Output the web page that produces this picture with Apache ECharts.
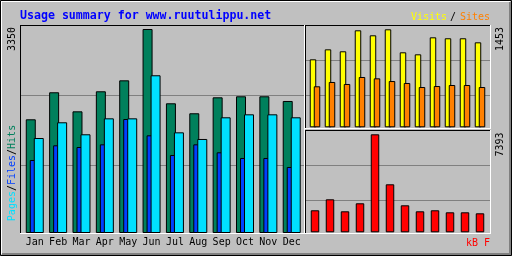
<!DOCTYPE html>
<html><head><meta charset="utf-8">
<script src="https://cdn.jsdelivr.net/npm/echarts@6/dist/echarts.min.js"></script>
<style>html,body{margin:0;padding:0;background:#c0c0c0}#c{width:512px;height:256px}</style>
</head><body><div id="c"></div>
<script>
const titleText = 'Usage summary for www.ruutulippu.net';
const months = ['Jan','Feb','Mar','Apr','May','Jun','Jul','Aug','Sep','Oct','Nov','Dec'];
const hits   = [1867, 2311, 1998, 2327, 2507, 3350, 2130, 1966, 2228, 2245, 2245, 2168];
const files  = [1199, 1440, 1412, 1456, 1872, 1604, 1281, 1456, 1325, 1232, 1232, 1084];
const pages  = [1560, 1818, 1621, 1883, 1883, 2590, 1653, 1544, 1900, 1949, 1949, 1900];
const visits = [1008, 1156, 1127, 1438, 1364, 1453, 1112, 1082, 1334, 1320, 1320, 1260];
const sites  = [608, 672, 642, 746, 726, 686, 657, 597, 612, 627, 627, 597];
const kbytes = [1660, 2489, 1584, 2188, 7393, 3621, 2037, 1584, 1660, 1509, 1509, 1433];
const maxLabels = ['3350', '1453', '7393'];

const C = {hits:'#00805c', files:'#0040ff', pages:'#00e0ff', visits:'#ffff00', sites:'#ff8000', kb:'#ff0000'};
const MONO = '"DejaVu Sans Mono", monospace';
const chart = echarts.init(document.getElementById('c'), null, {renderer:'canvas'});

const hid = {show:false};
function gridAxisY(gi){ return {type:'value', gridIndex:gi, min:0, max:3, interval:1,
  axisLine:hid, axisTick:hid, axisLabel:hid,
  splitLine:{show:true, lineStyle:{color:['rgba(0,0,0,0)','#808080','#808080','rgba(0,0,0,0)'], width:1}}}; }
function gridAxisX(gi){ return {type:'value', gridIndex:gi, min:0, max:1, show:false, splitLine:hid}; }

function bar(name, data, color, xi, yi, w, gap){
  return {type:'bar', name, data, xAxisIndex:xi, yAxisIndex:yi, barWidth:w, barGap:gap,
    itemStyle:{color, borderColor:'#000', borderWidth:1}, silent:true};
}
function line(x1,y1,x2,y2,c,w){ return {type:'line', shape:{x1,y1,x2,y2}, style:{stroke:c, lineWidth:w||1}, z:100, silent:true}; }

const option = {
  animation:false,
  backgroundColor:'#c0c0c0',
  grid:[
    {left:23.1, top:29, width:280.3, height:204, containLabel:false},   // 0 main data
    {left:307.5, top:29.3, width:180, height:98, containLabel:false},   // 1 visits/sites
    {left:307.5, top:134.3, width:180, height:98, containLabel:false},  // 2 kB
    {left:21, top:25, width:283, height:210, containLabel:false},      // 3 main grid lines
    {left:306, top:25, width:184, height:105, containLabel:false},     // 4
    {left:306, top:130, width:184, height:105, containLabel:false}     // 5
  ],
  xAxis:[
    {type:'category', gridIndex:0, data:months, axisLine:hid, axisTick:hid, splitLine:hid,
     axisLabel:{show:true, interval:0, margin:4, color:'#000', fontFamily:MONO, fontSize:10}},
    {type:'category', gridIndex:1, data:months, show:false},
    {type:'category', gridIndex:2, data:months, show:false},
    gridAxisX(3), gridAxisX(4), gridAxisX(5)
  ],
  yAxis:[
    {type:'value', gridIndex:0, min:0, max:3350, show:false, splitLine:hid},
    {type:'value', gridIndex:1, min:0, max:1453, show:false, splitLine:hid},
    {type:'value', gridIndex:2, min:0, max:7393, show:false, splitLine:hid},
    gridAxisY(3), gridAxisY(4), gridAxisY(5)
  ],
  series:[
    bar('Hits', hits, C.hits, 0, 0, 10, '-60%'),
    bar('Files', files, C.files, 0, 0, 10, '-60%'),
    bar('Pages', pages, C.pages, 0, 0, 10, '-60%'),
    bar('Visits', visits, C.visits, 1, 1, 6.5, '-38%'),
    bar('Sites', sites, C.sites, 1, 1, 6.5, '-38%'),
    bar('kB F', kbytes, C.kb, 2, 2, 8.5, '0%')
  ],
  graphic:[
    // outer frame
    {type:'rect', shape:{x:0.5,y:0.5,width:511,height:255}, style:{fill:null, stroke:'#000', lineWidth:1}, z:100, silent:true},
    line(1, 1.5, 510, 1.5, '#ffffff'),
    line(1.5, 1, 1.5, 254, '#ffffff'),
    line(2, 254, 511, 254, '#808080', 2),
    line(510, 2, 510, 255, '#808080', 2),
    // main panel
    line(20, 25.5, 304, 25.5, '#000'),
    line(20.5, 25, 20.5, 234, '#000'),
    line(20, 233.5, 305, 233.5, '#fff'),
    line(304.5, 25, 304.5, 234, '#fff'),
    // top-right panel
    line(305, 25.5, 490, 25.5, '#000'),
    line(305.5, 25, 305.5, 129, '#000'),
    line(305, 128.5, 491, 128.5, '#fff'),
    line(490.5, 25, 490.5, 129, '#fff'),
    // bottom-right panel
    line(305, 130.5, 490, 130.5, '#000'),
    line(305.5, 130, 305.5, 234, '#000'),
    line(305, 233.5, 491, 233.5, '#fff'),
    line(490.5, 130, 490.5, 234, '#fff'),
    // texts
    {type:'text', x:20, y:15.5, z:101, silent:true, style:{text:titleText, fill:'#0000ff', font:'bold 11.6px '+MONO, align:'left', verticalAlign:'middle'}},
    {type:'text', x:447, y:17.5, z:101, silent:true, style:{text:'Visits', fill:C.visits, font:'10px '+MONO, align:'right', verticalAlign:'middle'}},
    {type:'text', x:453, y:17.5, z:101, silent:true, style:{text:'/', fill:'#000', font:'10px '+MONO, align:'center', verticalAlign:'middle'}},
    {type:'text', x:460, y:17.5, z:101, silent:true, style:{text:'Sites', fill:C.sites, font:'10px '+MONO, align:'left', verticalAlign:'middle'}},
    {type:'text', x:490, y:243.5, z:101, silent:true, style:{text:'kB F', fill:C.kb, font:'10px '+MONO, align:'right', verticalAlign:'middle'}},
    {type:'text', x:12, y:39, rotation:Math.PI/2, z:101, silent:true, style:{text:maxLabels[0], fill:'#000', font:'10px '+MONO, align:'center', verticalAlign:'middle'}},
    {type:'text', x:500, y:39, rotation:Math.PI/2, z:101, silent:true, style:{text:maxLabels[1], fill:'#000', font:'10px '+MONO, align:'center', verticalAlign:'middle'}},
    {type:'text', x:500, y:144.5, rotation:Math.PI/2, z:101, silent:true, style:{text:maxLabels[2], fill:'#000', font:'10px '+MONO, align:'center', verticalAlign:'middle'}},
    {type:'text', x:12, y:173, rotation:Math.PI/2, z:101, silent:true, style:{
      text:'{p|Pages}{s|/}{f|Files}{s|/}{h|Hits}', align:'center', verticalAlign:'middle', font:'10px '+MONO,
      rich:{p:{fill:C.pages, font:'10px '+MONO}, s:{fill:'#000', font:'10px '+MONO}, f:{fill:C.files, font:'10px '+MONO}, h:{fill:C.hits, font:'10px '+MONO}}}}
  ]
};
chart.setOption(option);
</script></body></html>
